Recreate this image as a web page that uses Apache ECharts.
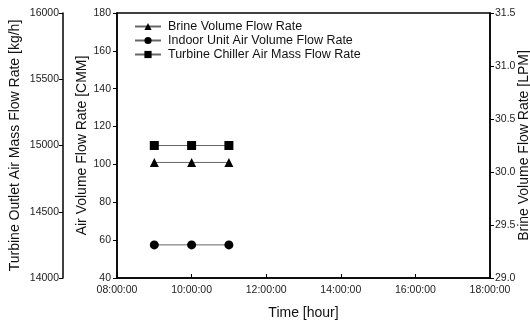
<!DOCTYPE html>
<html>
<head>
<meta charset="utf-8">
<script src="https://cdn.jsdelivr.net/npm/echarts@6/dist/echarts.min.js"></script>
<style>
  html, body { margin: 0; padding: 0; background: #fff; }
  #chart { width: 530px; height: 322px; }
</style>
</head>
<body>
<div id="chart"></div>
<script>
// time in hours of day
const hours = [9, 10, 11];
const brineLpm = [30.09, 30.09, 30.09];
const indoorCmm = [57.5, 57.5, 57.5];
const turbineKgh = [15000, 15000, 15000];

const pad = (n) => (n < 10 ? '0' + n : '' + n);
const pairs = (ys) => hours.map((h, i) => [h, ys[i]]);

const tickFont = { color: '#222', fontSize: 10.5, fontFamily: 'Liberation Sans, Arial' };
const nameFont = { color: '#111', fontSize: 14, fontFamily: 'Liberation Sans, Arial' };
const blackLine = { lineStyle: { color: '#000', width: 1.5 } };

const chart = echarts.init(document.getElementById('chart'));
chart.setOption({
  animation: false,
  backgroundColor: '#fff',
  grid: {
    left: 117, right: 40, top: 13, bottom: 44,
    outerBoundsMode: 'none',
    containLabel: false,
    show: true, borderColor: '#000', borderWidth: 1.5
  },
  legend: {
    orient: 'vertical',
    left: 134,
    top: 20,
    padding: 0,
    itemWidth: 26,
    itemHeight: 9,
    itemGap: 1,
    textStyle: { color: '#111', fontSize: 12.5, fontFamily: 'Liberation Sans, Arial', padding: [0, 0, 0, 2] },
    data: ['Brine Volume Flow Rate', 'Indoor Unit Air Volume Flow Rate', 'Turbine Chiller Air Mass Flow Rate']
  },
  xAxis: {
    type: 'value',
    min: 8, max: 18, interval: 2,
    name: 'Time [hour]',
    nameLocation: 'middle',
    nameGap: 28,
    nameMoveOverlap: false,
    nameTextStyle: nameFont,
    axisLine: blackLine,
    axisTick: { inside: true, length: 4, lineStyle: { color: '#000' } },
    splitLine: { show: false },
    axisLabel: Object.assign({ margin: 7, formatter: (v) => pad(v) + ':00:00' }, tickFont)
  },
  yAxis: [
    {
      type: 'value', position: 'left',
      min: 40, max: 180, interval: 20,
      name: 'Air Volume Flow Rate [CMM]',
      nameLocation: 'middle', nameGap: 28, nameMoveOverlap: false, nameTextStyle: nameFont,
      axisLine: Object.assign({ show: true }, blackLine),
      axisTick: { show: true, length: 4, lineStyle: { color: '#000' } },
      splitLine: { show: false },
      axisLabel: Object.assign({ margin: 6 }, tickFont)
    },
    {
      type: 'value', position: 'left', offset: 54,
      min: 14000, max: 16000, interval: 500,
      name: 'Turbine Outlet Air Mass Flow Rate [kg/h]',
      nameLocation: 'middle', nameGap: 41, nameMoveOverlap: false, nameTextStyle: nameFont,
      axisLine: Object.assign({ show: true }, blackLine),
      axisTick: { show: true, length: 4, lineStyle: { color: '#000' } },
      splitLine: { show: false },
      axisLabel: Object.assign({ margin: 4, formatter: (v) => String(v) }, tickFont)
    },
    {
      type: 'value', position: 'right',
      min: 29.0, max: 31.5, interval: 0.5,
      name: 'Brine Volume Flow Rate [LPM]',
      nameLocation: 'middle', nameGap: 27, nameMoveOverlap: false, nameTextStyle: nameFont,
      axisLine: Object.assign({ show: true }, blackLine),
      axisTick: { show: true, length: 4, lineStyle: { color: '#000' } },
      splitLine: { show: false },
      axisLabel: Object.assign({ margin: 5, formatter: (v) => v.toFixed(1) }, tickFont)
    }
  ],
  series: [
    {
      name: 'Brine Volume Flow Rate', type: 'line', yAxisIndex: 2,
      data: pairs(brineLpm),
      symbol: 'triangle', symbolSize: 9,
      itemStyle: { color: '#000' },
      lineStyle: { color: '#666', width: 1 }
    },
    {
      name: 'Indoor Unit Air Volume Flow Rate', type: 'line', yAxisIndex: 0,
      data: pairs(indoorCmm),
      symbol: 'circle', symbolSize: 9,
      itemStyle: { color: '#000' },
      lineStyle: { color: '#666', width: 1 }
    },
    {
      name: 'Turbine Chiller Air Mass Flow Rate', type: 'line', yAxisIndex: 1,
      data: pairs(turbineKgh),
      symbol: 'rect', symbolSize: 9,
      itemStyle: { color: '#000' },
      lineStyle: { color: '#666', width: 1 }
    }
  ]
});
</script>
</body>
</html>
